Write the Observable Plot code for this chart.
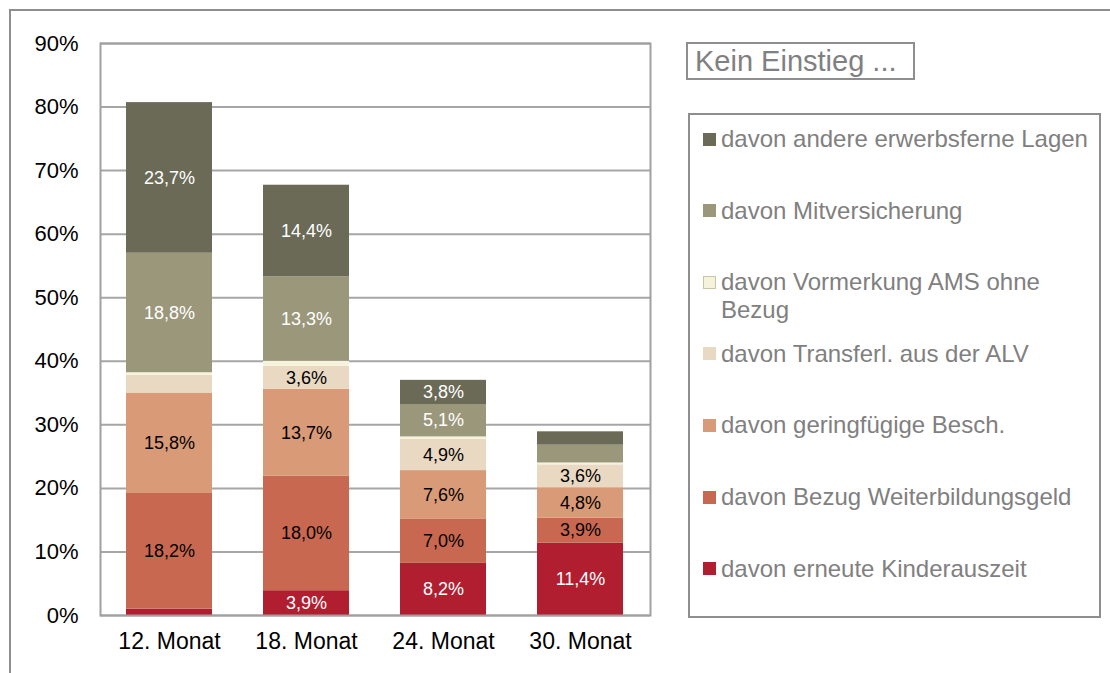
<!DOCTYPE html>
<html>
<head>
<meta charset="utf-8">
<script src="https://cdn.jsdelivr.net/npm/d3@7"></script>
<script src="https://cdn.jsdelivr.net/npm/@observablehq/plot@0.6"></script>
<style>
  body { margin: 0; background: #fff; font-family: "Liberation Sans", Arial, sans-serif; }
  #wrap { position: relative; width: 1110px; height: 673px; overflow: hidden; background: #fff; }
  #outer { position: absolute; left: 9px; top: 9px; width: 1200px; height: 800px; border: 2px solid #8e8e8e; }
  #chart { position: absolute; left: 0; top: 0; }
  #title { position: absolute; left: 686px; top: 42px; width: 218px; height: 34px; border: 2px solid #8e8e8e;
           color: #808080; font-size: 29px; line-height: 34px; padding-left: 7px; box-sizing: content-box; white-space: nowrap; }
  #legend { position: absolute; left: 688px; top: 113px; width: 409px; height: 501px; border: 2px solid #8e8e8e; }
  .item { position: absolute; left: 31px; color: #808080; font-size: 24px; line-height: 28px; white-space: nowrap; }
  .sw { position: absolute; left: 13px; width: 13px; height: 13px; box-sizing: border-box; }
</style>
</head>
<body>
<div id="wrap">
  <div id="outer"></div>
  <div id="chart"></div>
  <div id="title">Kein Einstieg ...</div>
  <div id="legend"></div>
</div>
<script>
// Categories (x axis)
const months = ["12. Monat", "18. Monat", "24. Monat", "30. Monat"];

// Series, bottom to top of the stack
const series = [
  "davon erneute Kinderauszeit",
  "davon Bezug Weiterbildungsgeld",
  "davon geringfügige Besch.",
  "davon Transferl. aus der ALV",
  "davon Vormerkung AMS ohne Bezug",
  "davon Mitversicherung",
  "davon andere erwerbsferne Lagen"
];

// Values in percent, one array per series (order matches months)
const kinderauszeit      = [1.0, 3.9, 8.2, 11.4];
const weiterbildung      = [18.2, 18.0, 7.0, 3.9];
const geringfuegig       = [15.8, 13.7, 7.6, 4.8];
const transferleistung   = [2.8, 3.6, 4.9, 3.6];
const vormerkung         = [0.4, 0.8, 0.4, 0.3];
const mitversicherung    = [18.8, 13.3, 5.1, 2.8];
const andere             = [23.7, 14.4, 3.8, 2.1];

const seriesValues = [kinderauszeit, weiterbildung, geringfuegig, transferleistung, vormerkung, mitversicherung, andere];

const colors = ["#b11e2f", "#c96851", "#d99a78", "#e9d8c2", "#f5f3db", "#9b977b", "#6a6a56"];
const labelColors = ["#ffffff", "#000000", "#000000", "#000000", "#000000", "#ffffff", "#ffffff"];

const yTicks = [0, 10, 20, 30, 40, 50, 60, 70, 80, 90];

const data = [];
series.forEach((s, i) => {
  months.forEach((m, j) => {
    data.push({ month: m, series: s, value: seriesValues[i][j], labelColor: labelColors[i] });
  });
});

const fmt = v => v.toFixed(1).replace(".", ",") + "%";

const chart = Plot.plot({
  width: 1110,
  height: 673,
  marginLeft: 100,
  marginRight: 460,
  marginTop: 43,
  marginBottom: 58,
  style: { fontFamily: "'Liberation Sans', Arial, sans-serif", background: "transparent", color: "#000" },
  x: { domain: months, paddingInner: 0.37, paddingOuter: 0.185, label: null },
  y: { domain: [0, 90], label: null },
  color: { domain: series, range: colors },
  marks: [
    Plot.gridY(yTicks, { stroke: "#a6a6a6", strokeOpacity: 1, strokeWidth: 2 }),
    Plot.barY(data, Plot.stackY({ x: "month", y: "value", fill: "series", order: series })),
    Plot.text(data, Plot.stackY({
      x: "month", y: "value", z: "series", order: series,
      text: d => (d.value >= 3 ? fmt(d.value) : null), fill: "labelColor", fontSize: 18
    })),
    Plot.frame({ stroke: "#a0a0a0", strokeWidth: 2 }),
    Plot.axisY(yTicks, { tickSize: 0, tickPadding: 22, tickFormat: d => d + "%", fontSize: 22, label: null, fill: "#000" }),
    Plot.axisX({ tickSize: 0, tickPadding: 17, fontSize: 23, label: null, fill: "#000" })
  ]
});
document.getElementById("chart").appendChild(chart);

// Legend (top item first, like the reference)
const legend = document.getElementById("legend");
const legendOrder = [6, 5, 4, 3, 2, 1, 0];
legendOrder.forEach((idx, k) => {
  const cy = 24 + k * 71.6; // centre of first text line, relative to legend box
  const sw = document.createElement("div");
  sw.className = "sw";
  sw.style.top = (cy - 6.5) + "px";
  sw.style.background = colors[idx];
  if (idx === 4) sw.style.border = "1px solid #c9c6a8";
  legend.appendChild(sw);
  const it = document.createElement("div");
  it.className = "item";
  it.style.top = (cy - 14) + "px";
  if (idx === 4) {
    it.innerHTML = "davon Vormerkung AMS ohne<br>Bezug";
  } else {
    it.textContent = series[idx];
  }
  legend.appendChild(it);
});
</script>
</body>
</html>
